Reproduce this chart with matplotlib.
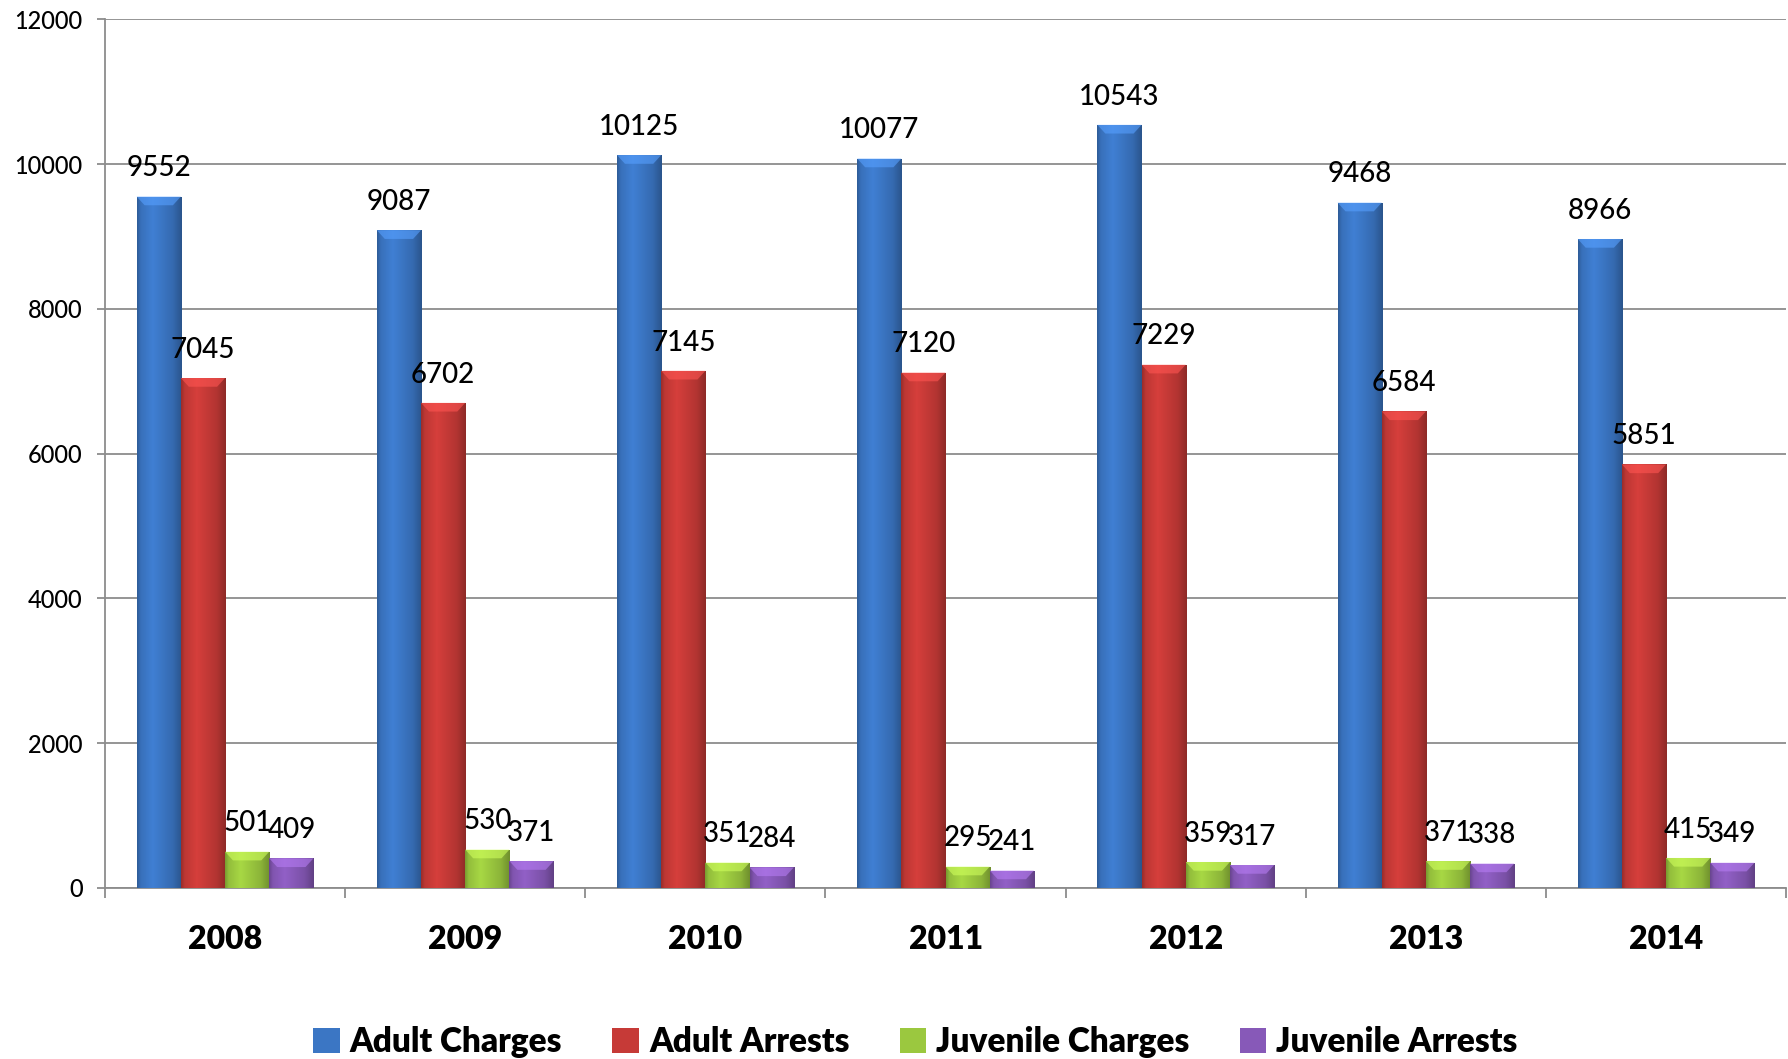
import matplotlib
matplotlib.use("Agg")
import matplotlib.pyplot as plt
import matplotlib.colors as mcolors
from matplotlib.patches import Patch, Polygon
import numpy as np

years = ['2008', '2009', '2010', '2011', '2012', '2013', '2014']
series_names = ['Adult Charges', 'Adult Arrests', 'Juvenile Charges', 'Juvenile Arrests']
adult_charges = [9552, 9087, 10125, 10077, 10543, 9468, 8966]
adult_arrests = [7045, 6702, 7145, 7120, 7229, 6584, 5851]
juvenile_charges = [501, 530, 351, 295, 359, 371, 415]
juvenile_arrests = [409, 371, 284, 241, 317, 338, 349]
colors = ['#3b76c4', '#c63a37', '#9bc83f', '#8759b8']

plt.rcParams['font.family'] = ['Lato', 'DejaVu Sans']

fig = plt.figure(figsize=(17.88, 10.59), dpi=100)
ax = fig.add_axes([0.0587, 0.1615, 0.9403, 0.8202])

x = np.arange(len(years))
w = 0.184
all_series = [adult_charges, adult_arrests, juvenile_charges, juvenile_arrests]

# horizontal shading to fake the 3d bevel
prof = np.interp(np.linspace(0, 1, 64), [0, 0.08, 0.35, 0.8, 1.0], [0.78, 0.95, 1.08, 0.9, 0.72])
bevel = 120  # data units of the top cap

for i, (vals, col) in enumerate(zip(all_series, colors)):
    base = np.array(mcolors.to_rgb(col))
    img = np.clip(prof[:, None] * base[None, :], 0, 1)[None, :, :]
    light = np.clip(base * 1.25 + 0.05, 0, 1)
    bars = ax.bar(x + (i - 1.5) * w, vals, w, color=col, linewidth=0, zorder=3)
    for b, v in zip(bars, vals):
        x0, x1 = b.get_x(), b.get_x() + b.get_width()
        im = ax.imshow(img, extent=[x0, x1, 0, v], aspect='auto', zorder=3, interpolation='bilinear')
        im.set_clip_path(b)
        dx = (x1 - x0) * 0.18
        cap = Polygon([[x0, v], [x1, v], [x1 - dx, v - bevel], [x0 + dx, v - bevel]],
                      closed=True, facecolor=light, edgecolor='none', alpha=0.6, zorder=4)
        ax.add_patch(cap)
        ax.annotate(str(v), (b.get_x() + w / 2, v), xytext=(0, 11), textcoords='offset points',
                    ha='center', va='bottom', fontsize=20, fontweight='medium',
                    color='black', zorder=5)

ax.set_xlim(-0.5, len(years) - 0.5)
ax.set_ylim(0, 12000)
ax.set_yticks(np.arange(0, 12001, 2000))
ax.set_yticklabels([str(v) for v in range(0, 12001, 2000)], fontsize=17, fontweight='medium')
ax.grid(axis='y', color='#8c8c8c', linewidth=1.3, zorder=0)
ax.set_axisbelow(True)

ax.set_xticks(np.arange(-0.5, len(years), 1.0))
ax.set_xticklabels([])
ax.set_xticks(x, minor=True)
ax.set_xticklabels(years, minor=True, fontsize=23, fontweight='heavy')
ax.tick_params(axis='x', which='minor', length=0, pad=27)
ax.tick_params(axis='x', which='major', length=7, width=1.3, color='#8c8c8c', direction='out')
ax.tick_params(axis='y', length=6, width=1.3, color='#8c8c8c', direction='out', pad=10)

for s in ['top', 'right']:
    ax.spines[s].set_visible(False)
for s in ['left', 'bottom']:
    ax.spines[s].set_color('#8c8c8c')
    ax.spines[s].set_linewidth(1.3)

handles = [Patch(facecolor=c, edgecolor='none') for c in colors]
fig.legend(handles, series_names, loc='center', bbox_to_anchor=(0.512, 0.016),
           bbox_transform=fig.transFigure, ncol=4, frameon=False,
           prop={'size': 24, 'weight': 'heavy'}, handlelength=0.8, handleheight=0.8,
           handletextpad=0.3, columnspacing=1.5)

fig.savefig('out.png', dpi=100)
